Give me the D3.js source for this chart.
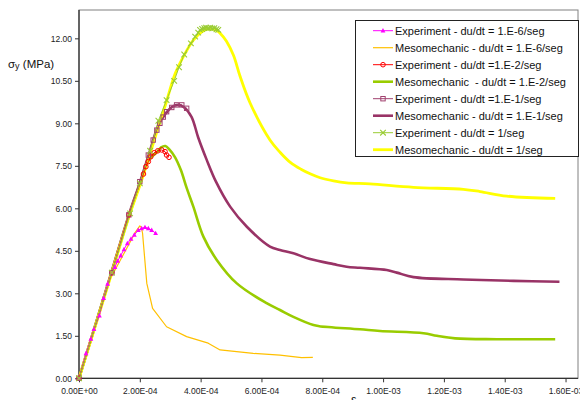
<!DOCTYPE html>
<html>
<head>
<meta charset="utf-8">
<script src="https://cdn.jsdelivr.net/npm/d3@7"></script>
<style>
  body { margin: 0; background: #fff; }
  text { font-family: Arial, "Liberation Sans", sans-serif; white-space: pre; }
</style>
</head>
<body>
<div id="chart"></div>
<script>
// strain values are given in units of 1e-4, stress in MPa
var expSlow = [[0,0],[0.23,0.88],[0.39,1.39],[0.49,1.73],[0.67,2.21],[0.81,2.83],[0.94,3.33],[1.07,3.7],[1.18,3.92],[1.27,4.14],[1.37,4.33],[1.48,4.55],[1.59,4.76],[1.71,4.92],[1.82,5.06],[1.95,5.23],[2.06,5.29],[2.17,5.33],[2.28,5.29],[2.39,5.23],[2.52,5.12]]
var mesoSlow = [[0,0],[0.5,1.72],[1.0,3.45],[1.13,3.72],[1.5,4.45],[1.85,5.15],[2.0,5.38],[2.05,5.33],[2.09,5.12],[2.23,3.35],[2.42,2.47],[2.88,1.82],[3.54,1.47],[4.25,1.24],[4.64,1.0],[5.73,0.88],[6.61,0.82],[7.32,0.73],[7.69,0.74]]
var expE2 = [[0,0],[1.08,3.73],[1.64,5.77],[2.12,7.21],[2.2,7.47],[2.28,7.65],[2.36,7.82],[2.47,7.96],[2.59,8.03],[2.72,8.06],[2.83,8.0],[2.88,7.88],[2.96,7.8]]
var mesoE2 = [[0,0],[1.0,3.5],[1.64,5.72],[2.0,6.85],[2.3,7.7],[2.56,7.98],[2.7,8.15],[2.84,8.2],[2.97,8.08],[3.16,7.8],[3.35,7.35],[3.54,6.72],[3.76,6.06],[4.09,5.0],[4.53,4.18],[5.19,3.35],[6.17,2.65],[6.61,2.41],[7.05,2.17],[7.71,1.88],[7.9,1.84],[9.24,1.73],[9.9,1.67],[11.33,1.59],[11.77,1.5],[12.37,1.41],[13.74,1.38],[15.66,1.38]]
var expE1 = [[0,0],[1.08,3.73],[1.64,5.77],[2.0,6.94],[2.28,7.88],[2.44,8.41],[2.56,8.76],[2.66,9.0],[2.77,9.22],[2.88,9.41],[3.05,9.56],[3.21,9.65],[3.38,9.65],[3.54,9.53]]
var mesoE1 = [[0,0],[1.0,3.5],[1.64,5.77],[2.0,6.9],[2.31,7.95],[2.6,8.9],[2.85,9.35],[3.05,9.57],[3.27,9.65],[3.45,9.57],[3.7,9.23],[3.92,8.5],[4.2,7.71],[4.5,6.95],[4.97,6.06],[5.52,5.35],[6.28,4.65],[6.61,4.53],[7.05,4.41],[7.6,4.21],[8.37,4.03],[8.8,3.94],[9.24,3.9],[10.12,3.82],[10.45,3.73],[11.0,3.57],[12.64,3.49],[14.29,3.44],[15.8,3.41]]
var expE0 = [[0,0],[1.08,3.73],[1.68,5.82],[2.0,6.88],[2.34,8.03],[2.61,9.09],[2.88,9.82],[3.13,10.5],[3.29,10.98],[3.46,11.43],[3.68,11.82],[3.82,12.06],[3.92,12.2],[3.98,12.3],[4.05,12.33],[4.12,12.36],[4.18,12.38],[4.25,12.36],[4.32,12.38],[4.38,12.35],[4.45,12.36],[4.52,12.32],[4.58,12.3]]
var mesoE0 = [[0,0],[1.0,3.45],[1.64,5.7],[2.0,6.8],[2.3,7.8],[2.56,8.7],[2.88,9.78],[3.16,10.75],[3.49,11.47],[3.76,11.94],[4.04,12.23],[4.25,12.33],[4.53,12.28],[4.64,12.18],[4.85,11.9],[5.08,11.4],[5.3,10.65],[5.63,9.71],[6.28,8.41],[6.61,7.98],[6.95,7.62],[7.3,7.38],[7.6,7.22],[7.93,7.08],[8.37,6.97],[8.8,6.9],[9.57,6.86],[11.0,6.74],[12.64,6.67],[13.19,6.59],[14.07,6.43],[15.66,6.35]]

var seriesNames = ["Experiment - du/dt = 1.E-6/seg", "Mesomechanic - du/dt = 1.E-6/seg",
    "Experiment - du/dt =1.E-2/seg", "Mesomechanic  - du/dt = 1.E-2/seg",
    "Experiment - du/dt =1.E-1/seg", "Mesomechanic - du/dt = 1.E-1/seg",
    "Experiment - du/dt = 1/seg", "Mesomechanic - du/dt = 1/seg"]

var xTicks = [0, 2, 4, 6, 8, 10, 12, 14, 16]
var xTickLabels = ["0.00E+00", "2.00E-04", "4.00E-04", "6.00E-04", "8.00E-04", "1.00E-03", "1.20E-03", "1.40E-03", "1.60E-03"]
var yTicks = [0, 1.5, 3, 4.5, 6, 7.5, 9, 10.5, 12]

var w = 580, h = 400
var pL = 79, pT = 10, pR = 578, pB = 378.3

var svg = d3.select("#chart").append("svg")
    .attr("width", w)
    .attr("height", h)

var x = d3.scaleLinear().domain([0, 16.41]).range([pL, pR])
var y = d3.scaleLinear().domain([0, 13]).range([pB, pT])

// plot frame
svg.append("rect")
    .attr("x", pL).attr("y", pT)
    .attr("width", pR - pL).attr("height", pB - pT)
    .attr("fill", "none").attr("stroke", "#808080").attr("stroke-width", 1)

var xAxis = svg.append("g")
    .attr("transform", "translate(0," + pB + ")")
    .call(d3.axisBottom(x).tickValues(xTicks).tickSize(4).tickFormat((d, i) => xTickLabels[i]))
var yAxis = svg.append("g")
    .attr("transform", "translate(" + pL + ",0)")
    .call(d3.axisLeft(y).tickValues(yTicks).tickSize(4).tickFormat(d3.format(".2f")))

svg.selectAll(".domain").attr("stroke", "#333").attr("stroke-width", 1.3)
svg.selectAll(".tick line").attr("stroke", "#333")
xAxis.selectAll("text").attr("font-size", 8.5).attr("fill", "#222").attr("dy", "1.05em")
yAxis.selectAll("text").attr("font-size", 8.5).attr("fill", "#222").attr("dy", "0.35em")
xAxis.selectAll(".domain").attr("d", "M" + pL + ",0H" + pR)
yAxis.selectAll(".domain").attr("d", "M0," + pB + "V" + pT)

// axis titles
var yt = svg.append("text").attr("x", 8).attr("y", 68).attr("font-size", 11.5).attr("fill", "#111")
yt.append("tspan").text("σ")
yt.append("tspan").attr("font-size", 9).attr("dy", 1).text("y")
yt.append("tspan").attr("dy", -1).text(" (MPa)")
svg.append("text").attr("x", 351).attr("y", 404).attr("font-size", 12).attr("fill", "#111").text("ε")

var series = [
    { data: expSlow, color: "#FF00FF", width: 1, marker: "triangle", smooth: false },
    { data: mesoSlow, color: "#FFC000", width: 1.2, marker: null, smooth: false },
    { data: expE2, color: "#FF0000", width: 1, marker: "circle", smooth: false },
    { data: mesoE2, color: "#99CC00", width: 2.6, marker: null, smooth: true },
    { data: expE1, color: "#A0406E", width: 1, marker: "square", smooth: false },
    { data: mesoE1, color: "#993366", width: 2.6, marker: null, smooth: true },
    { data: expE0, color: "#99CC33", width: 1, marker: "cross", smooth: false },
    { data: mesoE0, color: "#FFFF00", width: 2.8, marker: null, smooth: true }
]

var lineSmooth = d3.line()
    .x(d => x(d[0]))
    .y(d => y(d[1]))
    .curve(d3.curveCatmullRom.alpha(0.5))
var lineStraight = d3.line()
    .x(d => x(d[0]))
    .y(d => y(d[1]))

var plot = svg.append("g")

// draw meso lines first, then experiment lines and markers on top
var order = [1, 3, 5, 7, 0, 2, 4, 6]
order.forEach(function (i) {
    var s = series[i]
    plot.append("path")
        .attr("d", s.smooth ? lineSmooth(s.data) : lineStraight(s.data))
        .attr("fill", "none")
        .attr("stroke", s.color)
        .attr("stroke-width", s.width)
        .attr("stroke-linejoin", "round")
})

function drawMarker(g, type, cx, cy, color) {
    if (type == "triangle") {
        g.append("path")
            .attr("d", "M" + cx + "," + (cy - 2.6) + "L" + (cx + 2.4) + "," + (cy + 1.8) + "L" + (cx - 2.4) + "," + (cy + 1.8) + "Z")
            .attr("fill", color)
    } else if (type == "circle") {
        g.append("circle").attr("cx", cx).attr("cy", cy).attr("r", 2.3)
            .attr("fill", "none").attr("stroke", color).attr("stroke-width", 1)
    } else if (type == "square") {
        g.append("rect").attr("x", cx - 2.2).attr("y", cy - 2.2).attr("width", 4.4).attr("height", 4.4)
            .attr("fill", "none").attr("stroke", color).attr("stroke-width", 1)
    } else if (type == "cross") {
        g.append("path")
            .attr("d", "M" + (cx - 2.8) + "," + (cy - 2.8) + "L" + (cx + 2.8) + "," + (cy + 2.8) +
                "M" + (cx + 2.8) + "," + (cy - 2.8) + "L" + (cx - 2.8) + "," + (cy + 2.8))
            .attr("stroke", color).attr("stroke-width", 1.1)
    }
}

order.forEach(function (i) {
    var s = series[i]
    if (!s.marker) return
    s.data.forEach(d => drawMarker(plot, s.marker, x(d[0]), y(d[1]), s.color))
})

// legend
var lg = svg.append("g")
lg.append("rect")
    .attr("x", 355.5).attr("y", 20.5).attr("width", 223).attr("height", 136)
    .attr("fill", "#fff").attr("stroke", "#222").attr("stroke-width", 1)

series.forEach(function (s, i) {
    var ly = 30.7 + i * 17
    lg.append("line")
        .attr("x1", 373).attr("x2", 393).attr("y1", ly).attr("y2", ly)
        .attr("stroke", s.color).attr("stroke-width", s.width)
    if (s.marker) drawMarker(lg, s.marker, 383, ly, s.color)
    lg.append("text")
        .attr("x", 395).attr("y", ly)
        .attr("dy", "0.35em")
        .attr("font-size", 11).attr("fill", "#111")
        .text(seriesNames[i])
})
</script>
</body>
</html>
